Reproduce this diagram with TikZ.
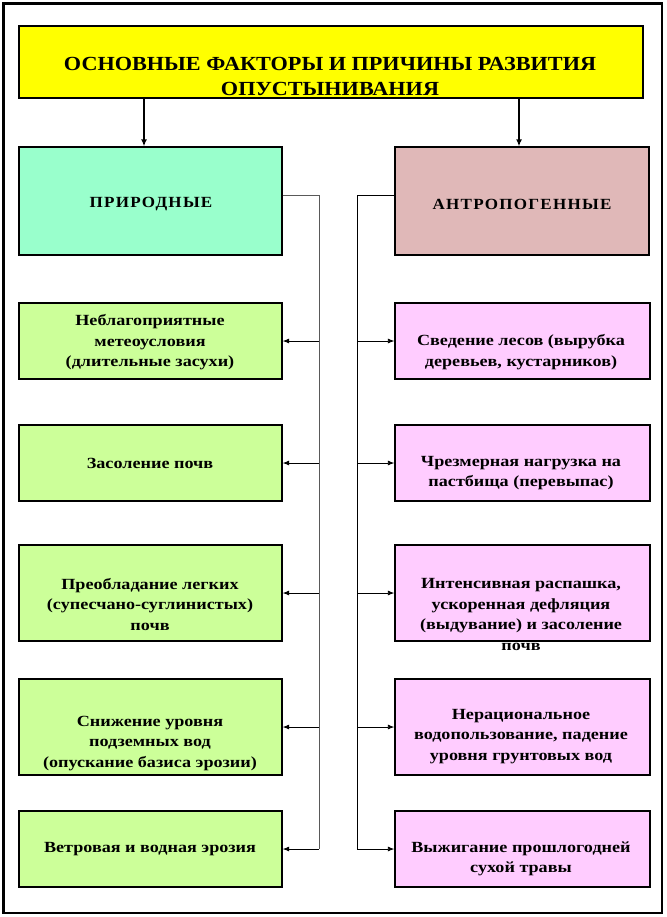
\documentclass[tikz,border=0pt]{standalone}
\usepackage{fontspec}
\setmainfont{Liberation Serif}
\newfontfamily\bodyfont{Liberation Serif}[FakeStretch=1.17]
\newfontfamily\titlefont{Liberation Serif}[FakeStretch=1.11]
\newfontfamily\headfont{Liberation Serif}[FakeStretch=1.1, LetterSpace=8]
\usetikzlibrary{arrows.meta}
\definecolor{titleY}{HTML}{FFFF00}
\definecolor{mintC}{HTML}{99FFCC}
\definecolor{roseC}{HTML}{E0B8B8}
\definecolor{greenC}{HTML}{CCFF99}
\definecolor{pinkC}{HTML}{FFCCFF}
\tikzset{
  box/.style={draw=black, line width=1.3pt, rectangle, inner sep=0pt},
  lbox/.style={box, fill=greenC, minimum width=263pt},
  rbox/.style={box, fill=pinkC, minimum width=255pt},
  txt/.style={align=center, font=\bodyfont\bfseries\fontsize{15.5}{20.5}\selectfont, inner sep=0pt},
  htxt/.style={align=center, font=\headfont\bfseries\fontsize{15.5}{20.5}\selectfont, inner sep=0pt},
  conn/.style={line width=0.8pt, draw=black},
  carrow/.style={conn, -{Latex[length=6.5pt,width=5pt]}},
  bigarrow/.style={line width=1.6pt, -{Latex[length=7pt,width=6pt]}}
}
\begin{document}
\begin{tikzpicture}[x=1pt,y=-1pt]
\useasboundingbox (0,0) rectangle (666,917);
\draw[line width=2.2pt] (3.5,3.5) rectangle (662,913);
% title
\node[box, fill=titleY, minimum width=624pt, minimum height=72pt] (title) at (331,62) {};
\node[align=center, inner sep=0pt, font=\titlefont\bfseries\fontsize{20}{25}\selectfont] (titletext) at (330,76) {ОСНОВНЫЕ ФАКТОРЫ И ПРИЧИНЫ РАЗВИТИЯ\\ОПУСТЫНИВАНИЯ};
% headers
\node[box, fill=mintC, minimum width=263pt, minimum height=108pt] (hL) at (150.5,201) {};
\node[box, fill=roseC, minimum width=254pt, minimum height=108pt] (hR) at (522,201) {};
\node[htxt] (hLt) at (151,204) {ПРИРОДНЫЕ};
\node[htxt] (hRt) at (522,204) {АНТРОПОГЕННЫЕ};
% left boxes
\node[lbox, minimum height=76pt] (l1) at (150.5,341) {};
\node[lbox, minimum height=76pt] (l2) at (150.5,463) {};
\node[lbox, minimum height=96pt] (l3) at (150.5,593) {};
\node[lbox, minimum height=96pt] (l4) at (150.5,727) {};
\node[lbox, minimum height=76pt] (l5) at (150.5,849) {};
% right boxes
\node[rbox, minimum height=76pt] (r1) at (522.5,341) {};
\node[rbox, minimum height=76pt] (r2) at (522.5,463) {};
\node[rbox, minimum height=96pt] (r3) at (522.5,593) {};
\node[rbox, minimum height=96pt] (r4) at (522.5,727) {};
\node[rbox, minimum height=76pt] (r5) at (522.5,849) {};
% texts
\node[txt] (l1t) at (150,342.5) {Неблагоприятные\\метеоусловия\\(длительные засухи)};
\node[txt] (l2t) at (150,463.5) {Засоление почв};
\node[txt] (l3t) at (150,604.5) {Преобладание легких\\(супесчано-суглинистых)\\почв};
\node[txt] (l4t) at (150,743.5) {Снижение уровня\\подземных вод\\(опускание базиса эрозии)};
\node[txt] (l5t) at (150,849.5) {Ветровая и водная эрозия};
\node[txt] (r1t) at (521,352) {Сведение лесов (вырубка\\деревьев, кустарников)};
\node[txt] (r2t) at (521,473) {Чрезмерная нагрузка на\\пастбища (перевыпас)};
\node[txt] (r3t) at (521,614.5) {Интенсивная распашка,\\ускоренная дефляция\\(выдувание) и засоление\\почв};
\node[txt] (r4t) at (521,736.5) {Нерациональное\\водопользование, падение\\уровня грунтовых вод};
\node[txt] (r5t) at (521,859) {Выжигание прошлогодней\\сухой травы};
% arrows from title
\coordinate (aL) at (144,98);
\coordinate (aR) at (519,98);
\draw[bigarrow] (aL) -- (aL |- hL.north);
\draw[bigarrow] (aR) -- (aR |- hR.north);
% trunks
\coordinate (tL) at (319,195);
\coordinate (tR) at (357,195);
\draw[conn, draw=black!65] (hL.east |- tL) -- (tL) -- (tL |- l5.east);
\draw[conn] (hR.west |- tR) -- (tR) -- (tR |- r5.west);
\foreach \n in {l1,l2,l3,l4,l5}{
  \draw[carrow] (tL |- \n.east) -- (\n.east);
}
\foreach \n in {r1,r2,r3,r4,r5}{
  \draw[carrow] (tR |- \n.west) -- (\n.west);
}
\end{tikzpicture}
\end{document}
